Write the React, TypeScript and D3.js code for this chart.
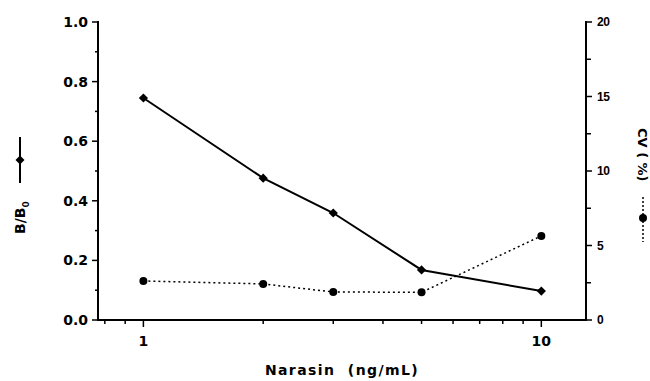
import React from "react";
import * as d3 from "d3";

const concentrations = [1, 2, 3, 5, 10];
const bb0Values = [0.745, 0.476, 0.359, 0.168, 0.097];
const cvValues = [2.62, 2.42, 1.88, 1.86, 5.64];
const leftTicks = [0, 0.2, 0.4, 0.6, 0.8, 1.0];
const leftMinor = [0.1, 0.3, 0.5, 0.7, 0.9];
const rightTicks = [0, 5, 10, 15, 20];
const rightMinor = [2.5, 7.5, 12.5, 17.5];
const xMajor = [1, 10];
const xMinor = [0.8, 0.9, 2, 3, 4, 5, 6, 7, 8, 9];

const W = 650;
const H = 381;
const FONT = "'DejaVu Sans', Verdana, sans-serif";
const FONT2 = "'Liberation Sans', Arial, Helvetica, sans-serif";

export default function App() {
  const x = d3.scaleLog().domain([0.769, 12.95]).range([98, 586]);
  const yL = d3.scaleLinear().domain([0, 1]).range([320, 22]);
  const yR = d3.scaleLinear().domain([0, 20]).range([320, 22]);

  const lineB = d3
    .line<number>()
    .x((_, i) => x(concentrations[i]))
    .y((d) => yL(d));
  const lineC = d3
    .line<number>()
    .x((_, i) => x(concentrations[i]))
    .y((d) => yR(d));

  const diamond = (cx: number, cy: number, r = 4.6) =>
    `M${cx},${cy - r}L${cx + r},${cy}L${cx},${cy + r}L${cx - r},${cy}Z`;

  return (
    <svg
      width={W}
      height={H}
      style={{ position: "absolute", left: 0, top: 0, background: "#fff" }}
      fontFamily={FONT}
      fontWeight="bold"
    >
      {/* axes lines */}
      <line x1={98} x2={98} y1={21} y2={321} stroke="#000" strokeWidth={2} />
      <line x1={586} x2={586} y1={21} y2={321} stroke="#000" strokeWidth={2} />
      <line x1={97} x2={587} y1={320} y2={320} stroke="#000" strokeWidth={2} />

      {/* left ticks */}
      {leftTicks.map((t) => (
        <g key={"l" + t}>
          <line x1={92} x2={98} y1={yL(t)} y2={yL(t)} stroke="#000" strokeWidth={1.5} />
          <text x={88} y={yL(t)} dy="0.36em" textAnchor="end" fontSize={14}>
            {t.toFixed(1)}
          </text>
        </g>
      ))}
      {leftMinor.map((t) => (
        <line key={"lm" + t} x1={95} x2={98} y1={yL(t)} y2={yL(t)} stroke="#000" strokeWidth={1.5} />
      ))}

      {/* right ticks */}
      {rightTicks.map((t) => (
        <g key={"r" + t}>
          <line x1={586} x2={592} y1={yR(t)} y2={yR(t)} stroke="#000" strokeWidth={1.5} />
          <text x={597} y={yR(t)} dy="0.36em" textAnchor="start" fontSize={12} fontFamily={FONT2} letterSpacing={-0.3}>
            {t}
          </text>
        </g>
      ))}
      {rightMinor.map((t) => (
        <line key={"rm" + t} x1={586} x2={591} y1={yR(t)} y2={yR(t)} stroke="#000" strokeWidth={1.5} />
      ))}

      {/* x ticks */}
      {xMajor.map((t) => (
        <g key={"x" + t}>
          <line x1={x(t)} x2={x(t)} y1={320} y2={327} stroke="#000" strokeWidth={1.5} />
          <text x={x(t)} y={341} dy="0.36em" textAnchor="middle" fontSize={14}>
            {t}
          </text>
        </g>
      ))}
      {xMinor.map((t) => (
        <line key={"xm" + t} x1={x(t)} x2={x(t)} y1={320} y2={324} stroke="#000" strokeWidth={1.5} />
      ))}

      {/* data lines */}
      <path d={lineC(cvValues) || ""} fill="none" stroke="#000" strokeWidth={1.5} strokeDasharray="2,3" />
      <path d={lineB(bb0Values) || ""} fill="none" stroke="#000" strokeWidth={2} />
      {cvValues.map((v, i) => (
        <circle key={"c" + i} cx={x(concentrations[i])} cy={yR(v)} r={4} fill="#000" />
      ))}
      {bb0Values.map((v, i) => (
        <path key={"d" + i} d={diamond(x(concentrations[i]), yL(v))} fill="#000" />
      ))}

      {/* x axis title */}
      <text x={342} y={370} dy="0.36em" textAnchor="middle" fontSize={14} letterSpacing={1.4} style={{ whiteSpace: "pre" }}>
        {"Narasin  (ng/mL)"}
      </text>

      {/* left title with legend line */}
      <g>
        <line x1={20} x2={20} y1={137} y2={183} stroke="#000" strokeWidth={2} />
        <path d={diamond(20, 160, 4.5)} fill="#000" />
        <text transform="translate(25,234) rotate(-90)" fontSize={14} textAnchor="start">
          B/B<tspan fontSize={9} dy={4}>0</tspan>
        </text>
      </g>

      {/* right title with legend line */}
      <g>
        <text transform="translate(638,128) rotate(90)" fontSize={13} textAnchor="start" style={{ whiteSpace: "pre" }}>
          {"CV ( %)"}
        </text>
        <line x1={643} x2={643} y1={197} y2={242} stroke="#000" strokeWidth={1.5} strokeDasharray="2,2" />
        <circle cx={643} cy={218} r={4} fill="#000" />
      </g>
    </svg>
  );
}
